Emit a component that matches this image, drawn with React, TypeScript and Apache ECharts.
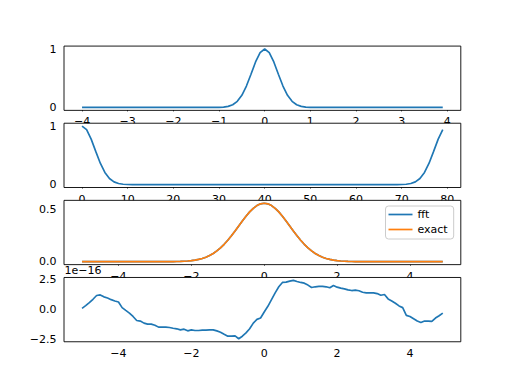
import React, { useEffect, useRef } from 'react';
import * as echarts from 'echarts';

// x samples of subplot 1 (80 points)
const xA = [
  -4, -3.9, -3.8, -3.7, -3.6, -3.5, -3.4, -3.3, -3.2, -3.1,
  -3, -2.9, -2.8, -2.7, -2.6, -2.5, -2.4, -2.3, -2.2, -2.1,
  -2, -1.9, -1.8, -1.7, -1.6, -1.5, -1.4, -1.3, -1.2, -1.1,
  -1, -0.9, -0.8, -0.7, -0.6, -0.5, -0.4, -0.3, -0.2, -0.1,
  0, 0.1, 0.2, 0.3, 0.4, 0.5, 0.6, 0.7, 0.8, 0.9,
  1, 1.1, 1.2, 1.3, 1.4, 1.5, 1.6, 1.7, 1.8, 1.9,
  2, 2.1, 2.2, 2.3, 2.4, 2.5, 2.6, 2.7, 2.8, 2.9,
  3, 3.1, 3.2, 3.3, 3.4, 3.5, 3.6, 3.7, 3.8, 3.9,
];

// x samples of subplots 3 and 4 (100 points)
const xB = [
  -5, -4.9, -4.8, -4.7, -4.6, -4.5, -4.4, -4.3, -4.2, -4.1,
  -4, -3.9, -3.8, -3.7, -3.6, -3.5, -3.4, -3.3, -3.2, -3.1,
  -3, -2.9, -2.8, -2.7, -2.6, -2.5, -2.4, -2.3, -2.2, -2.1,
  -2, -1.9, -1.8, -1.7, -1.6, -1.5, -1.4, -1.3, -1.2, -1.1,
  -1, -0.9, -0.8, -0.7, -0.6, -0.5, -0.4, -0.3, -0.2, -0.1,
  0, 0.1, 0.2, 0.3, 0.4, 0.5, 0.6, 0.7, 0.8, 0.9,
  1, 1.1, 1.2, 1.3, 1.4, 1.5, 1.6, 1.7, 1.8, 1.9,
  2, 2.1, 2.2, 2.3, 2.4, 2.5, 2.6, 2.7, 2.8, 2.9,
  3, 3.1, 3.2, 3.3, 3.4, 3.5, 3.6, 3.7, 3.8, 3.9,
  4, 4.1, 4.2, 4.3, 4.4, 4.5, 4.6, 4.7, 4.8, 4.9,
];

// subplot 1: pulse centred at 0
const pulseValues = [
  0, 0, 0, 0, 0, 0, 0, 0, 0, 0,
  0, 0, 0, 0, 0, 0, 0, 0, 0, 0,
  0, 0, 0, 0, 0, 0, 0, 0, 0, 0,
  0.002, 0.006, 0.018, 0.046, 0.104, 0.208, 0.366, 0.568, 0.778, 0.939,
  1.0, 0.939, 0.778, 0.568, 0.366, 0.208, 0.104, 0.046, 0.018, 0.006,
  0.002, 0, 0, 0, 0, 0, 0, 0, 0, 0,
  0, 0, 0, 0, 0, 0, 0, 0, 0, 0,
  0, 0, 0, 0, 0, 0, 0, 0, 0, 0,
];

// subplot 2: shifted pulse, plotted against its index
const shiftedValues = [
  1.0, 0.939, 0.778, 0.568, 0.366, 0.208, 0.104, 0.046, 0.018, 0.006,
  0.002, 0, 0, 0, 0, 0, 0, 0, 0, 0,
  0, 0, 0, 0, 0, 0, 0, 0, 0, 0,
  0, 0, 0, 0, 0, 0, 0, 0, 0, 0,
  0, 0, 0, 0, 0, 0, 0, 0, 0, 0,
  0, 0, 0, 0, 0, 0, 0, 0, 0, 0,
  0, 0, 0, 0, 0, 0, 0, 0, 0, 0,
  0.002, 0.006, 0.018, 0.046, 0.104, 0.208, 0.366, 0.568, 0.778, 0.939,
];

// subplot 3: exact transform
const exactValues = [
  0, 0, 0, 0, 0, 0, 0, 0, 0, 0,
  0, 0, 0, 0, 0, 0, 0, 0, 0, 0,
  0, 0.0001, 0.0002, 0.0004, 0.0007, 0.0011, 0.0018, 0.0028, 0.0045, 0.0069,
  0.0103, 0.0153, 0.0221, 0.0314, 0.0436, 0.0595, 0.0795, 0.1041, 0.1337, 0.1682,
  0.2076, 0.251, 0.2975, 0.3456, 0.3936, 0.4394, 0.4808, 0.5156, 0.5421, 0.5586,
  0.5642, 0.5586, 0.5421, 0.5156, 0.4808, 0.4394, 0.3936, 0.3456, 0.2975, 0.251,
  0.2076, 0.1682, 0.1337, 0.1041, 0.0795, 0.0595, 0.0436, 0.0314, 0.0221, 0.0153,
  0.0103, 0.0069, 0.0045, 0.0028, 0.0018, 0.0011, 0.0007, 0.0004, 0.0002, 0.0001,
  0, 0, 0, 0, 0, 0, 0, 0, 0, 0,
  0, 0, 0, 0, 0, 0, 0, 0, 0, 0,
];

// subplot 3: fft result (equal to exact within 1e-16)
const fftValues = [
  0, 0, 0, 0, 0, 0, 0, 0, 0, 0,
  0, 0, 0, 0, 0, 0, 0, 0, 0, 0,
  0, 0.0001, 0.0002, 0.0004, 0.0007, 0.0011, 0.0018, 0.0028, 0.0045, 0.0069,
  0.0103, 0.0153, 0.0221, 0.0314, 0.0436, 0.0595, 0.0795, 0.1041, 0.1337, 0.1682,
  0.2076, 0.251, 0.2975, 0.3456, 0.3936, 0.4394, 0.4808, 0.5156, 0.5421, 0.5586,
  0.5642, 0.5586, 0.5421, 0.5156, 0.4808, 0.4394, 0.3936, 0.3456, 0.2975, 0.251,
  0.2076, 0.1682, 0.1337, 0.1041, 0.0795, 0.0595, 0.0436, 0.0314, 0.0221, 0.0153,
  0.0103, 0.0069, 0.0045, 0.0028, 0.0018, 0.0011, 0.0007, 0.0004, 0.0002, 0.0001,
  0, 0, 0, 0, 0, 0, 0, 0, 0, 0,
  0, 0, 0, 0, 0, 0, 0, 0, 0, 0,
];

// subplot 4: difference, in units of 1e-16
const diffValues = [
  0.11, 0.33, 0.58, 0.86, 1.17, 1.22, 1.06, 0.97, 0.83, 0.72,
  0.64, 0.17, -0.06, -0.28, -0.56, -0.89, -0.94, -1.11, -1.19, -1.19,
  -1.28, -1.44, -1.44, -1.44, -1.47, -1.53, -1.58, -1.67, -1.61, -1.75,
  -1.67, -1.72, -1.72, -1.69, -1.69, -1.67, -1.67, -1.75, -1.86, -2.03,
  -2.19, -2.19, -2.17, -2.4, -2.19, -1.92, -1.58, -1.11, -0.8, -0.69,
  -0.19, 0.28, 0.83, 1.39, 1.89, 2.25, 2.28, 2.36, 2.42, 2.33,
  2.25, 2.19, 2.03, 1.83, 1.89, 1.92, 1.92, 1.89, 1.81, 2.0,
  1.86, 1.78, 1.72, 1.64, 1.58, 1.61, 1.56, 1.44, 1.39, 1.39,
  1.39, 1.33, 1.19, 1.25, 0.89, 0.72, 0.53, 0.31, 0.17, -0.47,
  -0.56, -0.75, -0.94, -1.06, -0.94, -0.94, -0.97, -0.69, -0.5, -0.28,
];
const diffOffsetLabel = '1e\u221216';

// tick values
const xTicks1 = [-4, -3, -2, -1, 0, 1, 2, 3, 4];
const xTicks2 = [0, 10, 20, 30, 40, 50, 60, 70, 80];
const xTicks34 = [-4, -2, 0, 2, 4];
const yTicks12 = [0, 1];
const yTicks3 = [0, 0.5];
const yTicks4 = [-2.5, 0, 2.5];

const FONT = 'DejaVu Sans';
const BLUE = '#1f77b4';
const ORANGE = '#ff7f0e';

const fmt = (digits: number | null) => (v: number) => {
  const s = digits === null ? String(Math.round(v * 1000) / 1000) : v.toFixed(digits);
  return s.replace('-', '\u2212');
};

export default function App() {
  const ref = useRef<HTMLDivElement>(null);

  useEffect(() => {
    if (!ref.current) return;
    const chart = echarts.init(ref.current, undefined, { renderer: 'svg' });

    const L = 64;
    const W = 396.8;
    const H = 64.28;
    const tops = [46.08, 123.22, 200.35, 277.48];

    const axisCommon = {
      axisLine: { show: false },
      splitLine: { show: false },
      z: 0,
    };
    const tick = (vals: number[]) => ({
      show: true,
      inside: false,
      length: 3.9,
      lineStyle: { color: '#000', width: 0.9 },
      customValues: vals,
    });
    const xLabel = (vals: number[], d: number | null) => ({
      show: true,
      customValues: vals,
      formatter: fmt(d),
      margin: 6,
      color: '#000',
      fontFamily: FONT,
      fontSize: 11,
    });
    const yLabel = (vals: number[], d: number | null) => ({
      show: true,
      customValues: vals,
      formatter: fmt(d),
      margin: 7.5,
      color: '#000',
      fontFamily: FONT,
      fontSize: 11,
    });

    const xRanges: [number, number][] = [
      [-4.395, 4.295],
      [-3.95, 82.95],
      [-5.495, 5.395],
      [-5.495, 5.395],
    ];
    const yRanges: [number, number][] = [
      [-0.05, 1.05],
      [-0.05, 1.05],
      [-0.0282, 0.5924],
      [-2.65, 2.66],
    ];
    const xTickSets = [xTicks1, xTicks2, xTicks34, xTicks34];
    const yTickSets = [yTicks12, yTicks12, yTicks3, yTicks4];
    const yDigits = [null, null, 1, 1];

    const grid = tops.map((t) => ({ left: L, top: t, width: W, height: H, containLabel: false }));
    const xAxis = tops.map((_, i) => ({
      type: 'value',
      gridIndex: i,
      min: xRanges[i][0],
      max: xRanges[i][1],
      axisTick: tick(xTickSets[i]),
      axisLabel: xLabel(xTickSets[i], null),
      ...axisCommon,
    }));
    const yAxis = tops.map((_, i) => ({
      type: 'value',
      gridIndex: i,
      min: yRanges[i][0],
      max: yRanges[i][1],
      axisTick: tick(yTickSets[i]),
      axisLabel: yLabel(yTickSets[i], yDigits[i]),
      ...axisCommon,
    }));

    const lineSeries = (name: string, idx: number, data: number[][], color: string) => ({
      name,
      type: 'line',
      xAxisIndex: idx,
      yAxisIndex: idx,
      data,
      symbol: 'none',
      showSymbol: false,
      z: 2,
      lineStyle: { color, width: 1.67 },
      itemStyle: { color },
      emphasis: { disabled: true },
    });

    const series = [
      lineSeries('pulse', 0, xA.map((x, i) => [x, pulseValues[i]]), BLUE),
      lineSeries('shifted', 1, shiftedValues.map((v, i) => [i, v]), BLUE),
      lineSeries('fft', 2, xB.map((x, i) => [x, fftValues[i]]), BLUE),
      lineSeries('exact', 2, xB.map((x, i) => [x, exactValues[i]]), ORANGE),
      lineSeries('diff', 3, xB.map((x, i) => [x, diffValues[i]]), BLUE),
    ];

    const frames = tops.map((t) => ({
      type: 'rect',
      z: 1,
      silent: true,
      shape: { x: L, y: t, width: W, height: H },
      style: { fill: '#ffffff', stroke: '#000000', lineWidth: 0.9 },
    }));

    chart.setOption({
      animation: false,
      backgroundColor: '#ffffff',
      grid,
      xAxis,
      yAxis,
      series,
      legend: {
        data: ['fft', 'exact'],
        orient: 'vertical',
        left: 385.5,
        top: 206,
        icon: 'rect',
        itemWidth: 24,
        itemHeight: 1.7,
        itemGap: 2,
        padding: [2, 6, 3, 3],
        backgroundColor: 'rgba(255,255,255,0.8)',
        borderColor: '#cccccc',
        borderWidth: 1,
        borderRadius: 3,
        selectedMode: false,
        z: 4,
        textStyle: { fontFamily: FONT, fontSize: 11, color: '#000', lineHeight: 13 },
      },
      graphic: [
        ...frames,
        {
          type: 'text',
          z: 3,
          x: 64.5,
          y: 270.5,
          style: {
            text: diffOffsetLabel,
            font: `11px "${FONT}"`,
            fill: '#000',
            textVerticalAlign: 'middle',
            verticalAlign: 'middle',
          },
        },
      ],
    });

    return () => chart.dispose();
  }, []);

  return (
    <div
      ref={ref}
      style={{ position: 'fixed', left: 0, top: 0, width: 512, height: 384, background: '#fff' }}
    />
  );
}
